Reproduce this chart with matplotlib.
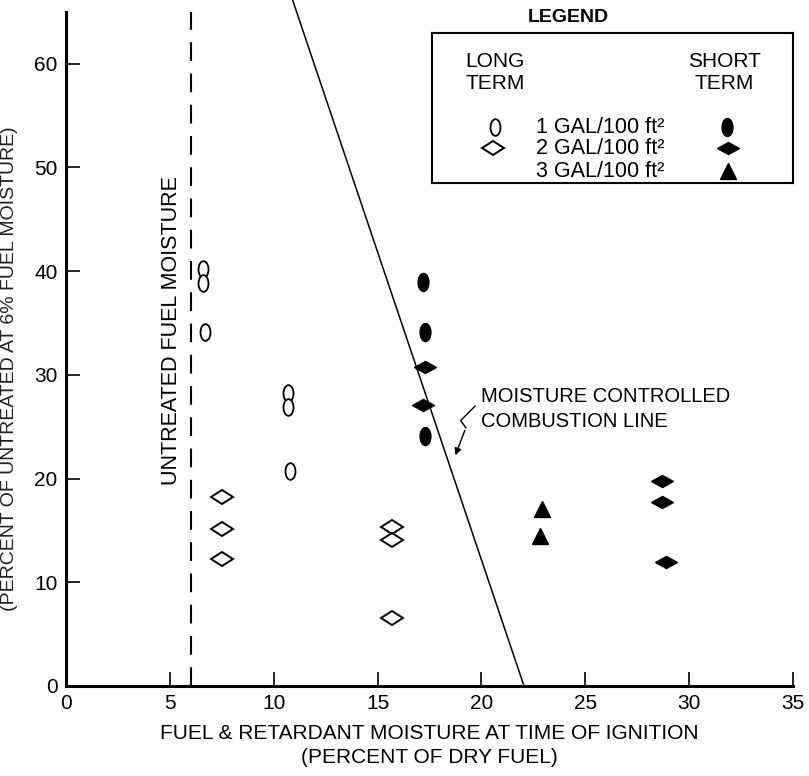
import matplotlib
matplotlib.use('Agg')
import matplotlib.pyplot as plt
from matplotlib.markers import MarkerStyle
from matplotlib.transforms import Affine2D

plt.rcParams['font.family'] = ['Liberation Sans', 'DejaVu Sans']

# long term retardant (open markers)
lt1_x = [6.6, 6.6, 6.7, 10.7, 10.7, 10.8]
lt1_y = [40.2, 38.9, 34.1, 28.3, 26.9, 20.7]
lt2_x = [7.5, 7.5, 7.5, 15.7, 15.7, 15.7]
lt2_y = [18.2, 15.1, 12.2, 15.3, 14.1, 6.6]

# short term retardant (filled markers)
st1_x = [17.2, 17.3, 17.3]
st1_y = [39.0, 34.1, 24.1]
st2_x = [17.3, 17.2, 28.7, 28.7, 28.9]
st2_y = [30.8, 27.1, 19.8, 17.7, 12.0]
st3_x = [22.9, 22.8]
st3_y = [17.1, 14.5]

# moisture controlled combustion line end points
mcl_x = [22.05, 10.9]
mcl_y = [0.0, 66.2]
untreated_moisture = 6

xticks = [0, 5, 10, 15, 20, 25, 30, 35]
yticks = [0, 10, 20, 30, 40, 50, 60]

ell = MarkerStyle('o', transform=Affine2D().scale(0.6, 1.0))
dia = MarkerStyle('D', transform=Affine2D().scale(1.0, 0.6))
ell_f = MarkerStyle('o', transform=Affine2D().scale(0.6, 1.0))
dia_f = MarkerStyle('D', transform=Affine2D().scale(1.0, 0.55))

fig = plt.figure(figsize=(8.09, 7.76), dpi=100)
ax = fig.add_axes([0.0816, 0.116, 0.8986, 0.8686])

ax.plot(lt1_x, lt1_y, ls='none', marker=ell, ms=12, mfc='white', mec='black', mew=1.3)
ax.plot(lt2_x, lt2_y, ls='none', marker=dia, ms=11.5, mfc='white', mec='black', mew=1.4)
ax.plot(st1_x, st1_y, ls='none', marker=ell_f, ms=13, mfc='black', mec='black')
ax.plot(st2_x, st2_y, ls='none', marker=dia_f, ms=11, mfc='black', mec='black')
ax.plot(st3_x, st3_y, ls='none', marker='^', ms=12, mfc='black', mec='black')

ax.plot(mcl_x, mcl_y, color='black', lw=1.1, clip_on=False)
ax.plot([untreated_moisture, untreated_moisture], [0, 65], color='black', lw=1.5,
        dashes=(9, 6))

ax.text(5.1, 34.3, 'UNTREATED FUEL MOISTURE', rotation=90, ha='center', va='center',
        fontsize=15.5)

ax.text(20.0, 26.7, 'MOISTURE CONTROLLED\nCOMBUSTION LINE', ha='left', va='center',
        fontsize=14.5, linespacing=1.35)
# squiggle arrow pointing at the line
ax.plot([19.7, 19.0, 19.25], [27.0, 25.6, 24.9], color='black', lw=1.0)
ax.annotate('', xy=(18.7, 22.0), xytext=(19.25, 24.9),
            arrowprops=dict(arrowstyle='-|>', color='black', lw=1.0,
                            mutation_scale=10))

ax.set_xlim(0, 35)
ax.set_ylim(0, 65)
ax.set_xticks(xticks)
ax.set_yticks(yticks)
ax.tick_params(direction='in', length=10, width=1.2, labelsize=15, pad=6)
for s in ['top', 'right']:
    ax.spines[s].set_visible(False)
for s in ['left', 'bottom']:
    ax.spines[s].set_linewidth(2.2)

ax.set_xlabel('FUEL & RETARDANT MOISTURE AT TIME OF IGNITION\n(PERCENT OF DRY FUEL)',
              fontsize=15, linespacing=1.3, labelpad=8)
fig.text(0.012, 0.525, '(PERCENT OF UNTREATED AT 6% FUEL MOISTURE)', rotation=90,
         ha='center', va='center', fontsize=14, color='#222222')

# legend drawn by hand
fig.text(0.702, 0.978, 'LEGEND', ha='center', va='center', fontsize=14, fontweight='bold')
lg = fig.add_axes([0.534, 0.764, 0.446, 0.193])
lg.set_xlim(0, 1)
lg.set_ylim(0, 1)
lg.set_xticks([])
lg.set_yticks([])
for s in lg.spines.values():
    s.set_linewidth(1.5)
lg.text(0.175, 0.74, 'LONG\nTERM', ha='center', va='center', fontsize=15, linespacing=1.2)
lg.text(0.81, 0.74, 'SHORT\nTERM', ha='center', va='center', fontsize=15, linespacing=1.2)
rows = [0.373, 0.233, 0.08]
labels = ['1 GAL/100 ft²', '2 GAL/100 ft²', '3 GAL/100 ft²']
for yy, lab in zip(rows, labels):
    lg.text(0.288, yy, lab, ha='left', va='center', fontsize=15.5)
lg.plot([0.175], [rows[0]], ls='none', marker=ell, ms=12, mfc='white', mec='black', mew=1.3)
lg.plot([0.17], [rows[1]], ls='none', marker=dia, ms=11.5, mfc='white', mec='black', mew=1.4)
lg.plot([0.817], [rows[0]], ls='none', marker=ell_f, ms=13, mfc='black', mec='black')
lg.plot([0.82], [rows[1]], ls='none', marker=dia_f, ms=11, mfc='black', mec='black')
lg.plot([0.82], [rows[2]], ls='none', marker='^', ms=12, mfc='black', mec='black')

fig.savefig('out.png', dpi=100)
